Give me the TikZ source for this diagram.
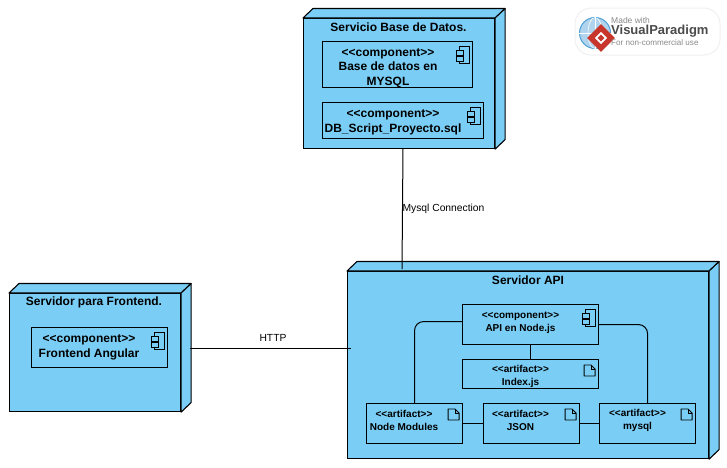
\documentclass[tikz,border=0pt]{standalone}
\usepackage{fontspec}
\usetikzlibrary{shapes.geometric}
\setmainfont{Liberation Sans}
\definecolor{nodeblue}{HTML}{7ACEF6}
\definecolor{vpgrey}{HTML}{8A8A8A}
\definecolor{vpdark}{HTML}{4A4A4A}
\definecolor{vpglobe}{HTML}{4F9FD6}
\definecolor{vpred}{HTML}{C8352B}
\newcommand{\stereo}[1]{<\kern0pt<#1>\kern0pt>}
\tikzset{
    nodeface/.style={draw, line width=1.1pt, fill=nodeblue, anchor=north west, inner sep=0pt},
    innerbox/.style={draw, line width=1.1pt, anchor=north west, inner sep=0pt},
    titletext/.style={font=\fontsize{12}{14}\selectfont\bfseries, align=center, inner sep=0pt},
    bigtext/.style={font=\fontsize{12}{14.5}\selectfont\bfseries, align=center, inner sep=0pt},
    smalltext/.style={font=\fontsize{10}{13}\selectfont\bfseries, align=center, inner sep=0pt},
    linklabel/.style={font=\fontsize{10.3}{12}\selectfont, inner sep=0pt},
    linkline/.style={line width=1pt},
    compicon/.pic={
        \draw[line width=.9pt] (-14,5) rectangle (-4,22);
        \draw[line width=.9pt, fill=nodeblue] (-17,9) rectangle (-10,14);
        \draw[line width=.9pt, fill=nodeblue] (-17,15) rectangle (-10,20);
    },
    pageicon/.pic={
        \draw[line width=.9pt, line join=round] (-15,6) -- (-8,6) -- (-4,10) -- (-4,17) -- (-15,17) -- cycle;
        \draw[line width=.7pt] (-8,6) -- (-8,10) -- (-4,10);
    }
}
% top and side faces of a deployment node
\newcommand{\cubefaces}[1]{
    \draw[line width=1.1pt, fill=nodeblue, line join=round] (#1.north west) -- ([shift={(10pt,9.5pt)}]#1.north west) -- ([shift={(10pt,9.5pt)}]#1.north east) -- (#1.north east) -- cycle;
    \draw[line width=1.1pt, fill=nodeblue, line join=round] (#1.north east) -- ([shift={(10pt,9.5pt)}]#1.north east) -- ([shift={(10pt,9.5pt)}]#1.south east) -- (#1.south east) -- cycle;
}
\begin{document}
\begin{tikzpicture}[x=1pt, y=-1pt]
    \useasboundingbox (0,0) rectangle (727,467);

    % Logo
    \node[fill=white, draw=black!6, line width=1pt, rounded corners=16pt, minimum width=145pt, minimum height=47pt, inner sep=0pt] (logo) at (647.5,31.5) {};
    \node[circle, draw=vpglobe, line width=1pt, fill=vpglobe!45, minimum size=31pt, inner sep=0pt] (globe) at (595,33) {};
    \draw[white, line width=.6pt] (globe.north) -- (globe.south) (globe.west) -- (globe.east);
    \draw[white, line width=.6pt] (globe.center) ellipse (7 and 15.5);
    \node[diamond, fill=vpred, minimum size=28pt, inner sep=0pt] (vpmark) at (601,38) {};
    \node[draw=white, line width=1.8pt, minimum size=7pt, inner sep=0pt, rotate=45] (vpinner) at (vpmark) {};
    \node[font=\fontsize{8.5}{10}\selectfont, text=vpgrey, inner sep=0pt, anchor=west] (madewith) at (611,20) {Made with};
    \node[font=\fontsize{13}{16}\selectfont\bfseries, text=vpdark, inner sep=0pt, anchor=west] (vpname) at (611,31) {VisualParadigm};
    \node[font=\fontsize{8.1}{10}\selectfont, text=vpgrey, inner sep=0pt, anchor=west] (noncomm) at (611,43) {For non-commercial use};

    % Servicio Base de Datos
    \node[nodeface, minimum width=191pt, minimum height=130pt] (servicio) at (303,18) {};
    \cubefaces{servicio}
    \node[titletext] (serviciotitle) at (398.5,27.5) {Servicio Base de Datos.};
    \node[innerbox, minimum width=150pt, minimum height=46pt] (basedatos) at (322,41) {};
    \node[bigtext] (basedatostext) at (388,68) {\stereo{component}\\Base de datos en\\MYSQL};
    \pic at (basedatos.north east) {compicon};
    \node[innerbox, minimum width=161pt, minimum height=36pt] (dbscript) at (322,102) {};
    \node[bigtext] (dbscripttext) at (393,122.5) {\stereo{component}\\DB\_Script\_Proyecto.sql};
    \pic at (dbscript.north east) {compicon};

    % Servidor para Frontend
    \node[nodeface, minimum width=171pt, minimum height=118pt] (frontend) at (9,293) {};
    \cubefaces{frontend}
    \node[titletext] (frontendtitle) at (94,302.5) {Servidor para Frontend.};
    \node[innerbox, minimum width=136pt, minimum height=40pt] (angular) at (31,327) {};
    \node[bigtext] (angulartext) at (89,347.5) {\stereo{component}\\Frontend Angular};
    \pic at (angular.north east) {compicon};

    % Servidor API
    \node[nodeface, minimum width=361pt, minimum height=187pt] (api) at (347,271) {};
    \cubefaces{api}
    \node[titletext] (apititle) at (528,280.5) {Servidor API};
    \node[innerbox, minimum width=136pt, minimum height=40pt] (apinode) at (462,304) {};
    \node[smalltext] (apinodetext) at (520.5,322.5) {\stereo{component}\\API en Node.js};
    \pic at (apinode.north east) {compicon};
    \node[innerbox, minimum width=136pt, minimum height=29pt] (indexjs) at (462,359) {};
    \node[smalltext] (indexjstext) at (520.5,376.5) {\stereo{artifact}\\Index.js};
    \pic at (indexjs.north east) {pageicon};
    \node[innerbox, minimum width=96pt, minimum height=40pt] (modules) at (366,403) {};
    \node[smalltext] (modulestext) at (404,420.5) {\stereo{artifact}\\Node Modules};
    \pic at (modules.north east) {pageicon};
    \node[innerbox, minimum width=96pt, minimum height=40pt] (json) at (483,403) {};
    \node[smalltext] (jsontext) at (520.5,420.5) {\stereo{artifact}\\JSON};
    \pic at (json.north east) {pageicon};
    \node[innerbox, minimum width=96pt, minimum height=40pt] (mysql) at (599,403) {};
    \node[smalltext] (mysqltext) at (637.5,420.5) {\stereo{artifact}\\mysql};
    \pic at (mysql.north east) {pageicon};

    % Connectors
    \draw[linkline, rounded corners=9pt] ([yshift=3pt]apinode.west) -| (modules.north);
    \draw[linkline, rounded corners=9pt] (apinode.east) -| (mysql.north);
    \draw[linkline] (apinode) -- (indexjs);
    \draw[linkline] (modules) -- (json);
    \draw[linkline] (json) -- (mysql);

    \coordinate (mysqlstart) at (403,148);
    \coordinate (mysqlend) at (402,269);
    \draw[linkline] (mysqlstart) -- (mysqlend);
    \coordinate (httpstart) at (190,348);
    \coordinate (httpend) at (351,348);
    \draw[linkline] (httpstart) -- (httpend);

    % Labels
    \node[linklabel] (mysqllabel) at (443.5,209) {Mysql Connection};
    \node[linklabel] (httplabel) at (273,338) {HTTP};
\end{tikzpicture}
\end{document}
